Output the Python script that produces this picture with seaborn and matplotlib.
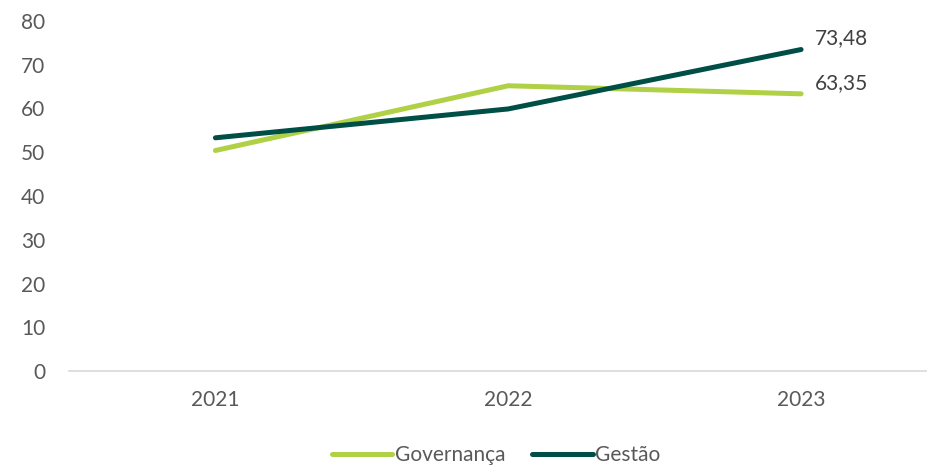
import pandas as pd
import matplotlib
matplotlib.use("Agg")
import matplotlib.pyplot as plt
import seaborn as sns

# dados
anos = ["2021", "2022", "2023"]
governanca = [50.4, 65.2, 63.35]
gestao = [53.3, 59.9, 73.48]
series = ["Governança", "Gestão"]
cores = ["#B0D046", "#004F47"]

df = pd.DataFrame({
    "ano": anos * 2,
    "valor": governanca + gestao,
    "serie": [series[0]] * 3 + [series[1]] * 3,
})

sns.set_style("white")
plt.rcParams["font.family"] = ["Lato", "DejaVu Sans"]
cinza = "#595959"
fs = 15

fig = plt.figure(figsize=(9.27, 4.66), dpi=100)
ax = fig.add_axes([69 / 927, 1 - 371 / 466, 1 - 69 / 927, (371 - 21) / 466])

sns.lineplot(data=df, x="ano", y="valor", hue="serie", hue_order=series,
             palette=cores, linewidth=3.6, ax=ax, legend=False,
             solid_capstyle="round")

ax.set_ylim(0, 80)
ax.set_yticks(range(0, 81, 10))
ax.set_xlim(-0.5, 2.43)
ax.set_xlabel("")
ax.set_ylabel("")
ax.tick_params(axis="both", colors=cinza, labelsize=fs, length=0)
ax.tick_params(axis="y", pad=17)
ax.tick_params(axis="x", pad=14)
for s in ["top", "right", "left"]:
    ax.spines[s].set_visible(False)
ax.spines["bottom"].set_color("#D9D9D9")
ax.spines["bottom"].set_linewidth(1.2)

# rótulos do último ponto
for vals in [gestao, governanca]:
    ax.annotate(f"{vals[-1]:.2f}".replace(".", ","), xy=(2, vals[-1]),
                xytext=(10, 8), textcoords="offset points",
                ha="left", va="center", fontsize=fs, color="#404040")

handles = [plt.Line2D([], [], color=c, linewidth=3.6, solid_capstyle="round") for c in cores]
fig.legend(handles, series, loc="center", bbox_to_anchor=(0.535, 0.024),
           ncol=2, frameon=False, fontsize=fs, labelcolor=cinza,
           handlelength=2.9, handletextpad=0.1, columnspacing=1.3)

fig.savefig("out.png", dpi=100)
